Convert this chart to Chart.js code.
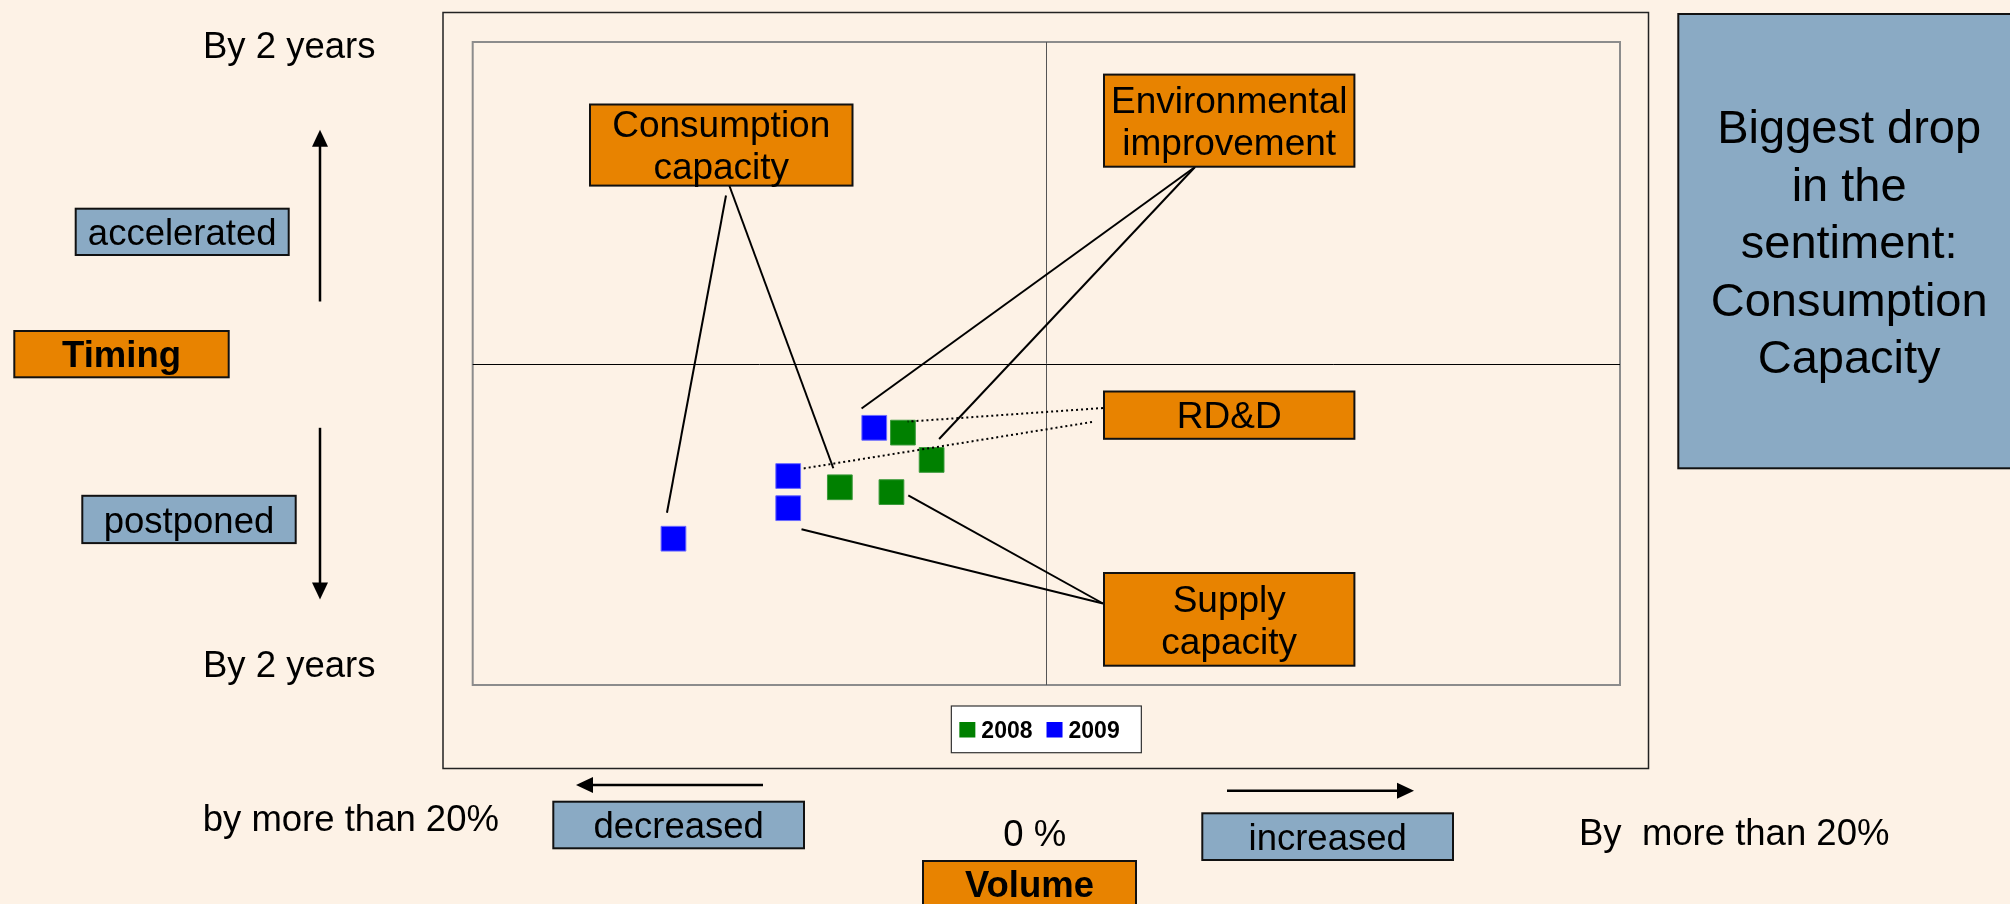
<!DOCTYPE html>
<html>
<head>
<meta charset="utf-8">
<title>Timing / Volume sentiment</title>
<script src="https://cdn.jsdelivr.net/npm/chart.js@4.4.1/dist/chart.umd.min.js"></script>
<style>
  html, body { margin: 0; padding: 0; background: #fdf2e6; }
  #wrap { width: 2010px; height: 904px; }
</style>
</head>
<body>
<div id="wrap"><canvas id="chartRef" width="2010" height="904"></canvas></div>
<script>
// ---- data ----
const categories = ["Consumption capacity", "Environmental improvement", "RD&D", "Supply capacity"];
const categoryLines = [["Consumption", "capacity"], ["Environmental", "improvement"], ["RD&D"], ["Supply", "capacity"]];
const seriesLabels = ["2008", "2009"];
const volume2008 = [-7.2, -4.0, -5.0, -5.4];
const timing2008 = [-0.77, -0.60, -0.43, -0.80];
const volume2009 = [-13.0, -6.0, -9.0, -9.0];
const timing2009 = [-1.09, -0.40, -0.70, -0.90];
const volumeTicks = ["by more than 20%", "0 %", "By  more than 20%"];
const volumeSides = ["decreased", "increased"];
const timingTicks = ["By 2 years", "By 2 years"];
const timingSides = ["accelerated", "postponed"];
const axisTitles = ["Timing", "Volume"];
const noteLines = ["Biggest drop", "in the", "sentiment:", "Consumption", "Capacity"];

// ---- styling ----
const BG = "#fdf2e6";
const ORANGE = "#e88300";
const STEEL = "#8aaac4";
const GREEN = "#008000";
const BLUE = "#0000ff";
const FONT = "'Liberation Sans', Arial, sans-serif";

// label boxes inside the plot: [left, top, right, bottom]
const catBoxes = [
    [590, 104.5, 852.5, 185.6],
    [1104, 74.6, 1354.4, 166.7],
    [1104, 391.5, 1354.4, 438.8],
    [1104, 573, 1354.4, 665.7],
];
// leader lines: box anchor -> offset from the point (series 0 = 2008, 1 = 2009)
const leaders = [
    { cat: 0, series: 0, from: [728, 182], off: [-6.5, -19], dash: false },
    { cat: 0, series: 1, from: [726, 195.5], off: [-6.5, -26], dash: false },
    { cat: 1, series: 1, from: [1195, 167], off: [-12.7, -19.3], dash: false },
    { cat: 1, series: 0, from: [1195, 167], off: [7.5, -21], dash: false },
    { cat: 2, series: 0, from: [1103, 408], off: [4.7, -11], dash: true },
    { cat: 2, series: 1, from: [1092, 422], off: [15.5, -7.6], dash: true },
    { cat: 3, series: 1, from: [1103, 603.5], off: [13.3, 21], dash: false },
    { cat: 3, series: 0, from: [1103, 603.5], off: [16.8, 3.2], dash: false },
];

function toPoints(xs, ys) {
    return xs.map((x, i) => ({ x: x, y: ys[i] }));
}

function box(ctx, l, t, r, b, fill) {
    ctx.save();
    ctx.fillStyle = fill;
    ctx.fillRect(l, t, r - l, b - t);
    ctx.lineWidth = 2;
    ctx.strokeStyle = "#111";
    ctx.strokeRect(l, t, r - l, b - t);
    ctx.restore();
}

function text(ctx, str, x, y, size, bold, align) {
    ctx.save();
    ctx.font = (bold ? "bold " : "") + size + "px " + FONT;
    ctx.fillStyle = "#000";
    ctx.textAlign = align || "left";
    ctx.textBaseline = "alphabetic";
    ctx.fillText(str, x, y);
    ctx.restore();
}

function labelBox(ctx, l, t, r, b, fill, lines, size, bold, lh) {
    box(ctx, l, t, r, b, fill);
    const cx = (l + r) / 2;
    const cy = (t + b) / 2;
    const n = lines.length;
    lines.forEach((s, i) => {
        const y = cy + (i - (n - 1) / 2) * lh + size * 0.36;
        text(ctx, s, cx, y, size, bold, "center");
    });
}

function arrow(ctx, x1, y1, x2, y2) {
    // line from (x1,y1) with a head at (x2,y2)
    const a = Math.atan2(y2 - y1, x2 - x1);
    const L = 17, W = 8;
    ctx.save();
    ctx.strokeStyle = "#000";
    ctx.fillStyle = "#000";
    ctx.lineWidth = 2.5;
    ctx.beginPath();
    ctx.moveTo(x1, y1);
    ctx.lineTo(x2 - Math.cos(a) * L * 0.6, y2 - Math.sin(a) * L * 0.6);
    ctx.stroke();
    ctx.beginPath();
    ctx.moveTo(x2, y2);
    ctx.lineTo(x2 - Math.cos(a) * L - Math.sin(a) * W, y2 - Math.sin(a) * L + Math.cos(a) * W);
    ctx.lineTo(x2 - Math.cos(a) * L + Math.sin(a) * W, y2 - Math.sin(a) * L - Math.cos(a) * W);
    ctx.closePath();
    ctx.fill();
    ctx.restore();
}

const quadrantPlugin = {
    id: "quadrant",
    beforeDraw(chart) {
        const ctx = chart.ctx;
        const area = chart.chartArea;
        const x0 = chart.scales.x.getPixelForValue(0);
        const y0 = chart.scales.y.getPixelForValue(0);
        ctx.save();
        ctx.fillStyle = BG;
        ctx.fillRect(0, 0, chart.width, chart.height);

        // outer frame
        ctx.strokeStyle = "#222";
        ctx.lineWidth = 1.5;
        ctx.strokeRect(443, 12.5, 1205.5, 756);

        // plot border
        ctx.strokeStyle = "#8c8c8c";
        ctx.lineWidth = 2;
        ctx.strokeRect(area.left, area.top, area.right - area.left, area.bottom - area.top);

        // quadrant lines
        ctx.lineWidth = 1;
        ctx.strokeStyle = "#555";
        ctx.beginPath();
        ctx.moveTo(Math.round(x0) + 0.5, area.top);
        ctx.lineTo(Math.round(x0) + 0.5, area.bottom);
        ctx.stroke();
        ctx.strokeStyle = "#000";
        ctx.beginPath();
        ctx.moveTo(area.left, Math.round(y0) + 0.5);
        ctx.lineTo(area.right, Math.round(y0) + 0.5);
        ctx.stroke();
        ctx.restore();
    },
    afterDatasetsDraw(chart) {
        const ctx = chart.ctx;
        const area = chart.chartArea;

        // leader lines from the label boxes to the points
        leaders.forEach(ld => {
            const el = chart.getDatasetMeta(ld.series).data[ld.cat];
            ctx.save();
            ctx.strokeStyle = "#000";
            ctx.lineWidth = ld.dash ? 2 : 2;
            if (ld.dash) ctx.setLineDash([2, 3]);
            ctx.beginPath();
            ctx.moveTo(ld.from[0], ld.from[1]);
            ctx.lineTo(el.x + ld.off[0], el.y + ld.off[1]);
            ctx.stroke();
            ctx.restore();
        });

        // category boxes
        catBoxes.forEach((b, i) => {
            labelBox(ctx, b[0], b[1], b[2], b[3], ORANGE, categoryLines[i], 37, false, 42);
        });

        // legend
        const lgW = 190, lgT = 706, lgH = 46.7;
        const lgL = (area.left + area.right) / 2 - lgW / 2;
        ctx.save();
        ctx.fillStyle = "#fff";
        ctx.fillRect(lgL, lgT, lgW, lgH);
        ctx.strokeStyle = "#333";
        ctx.lineWidth = 1.2;
        ctx.strokeRect(lgL, lgT, lgW, lgH);
        ctx.font = "bold 23px " + FONT;
        let lx = lgL + 8;
        chart.data.datasets.forEach(ds => {
            ctx.fillStyle = ds.backgroundColor;
            ctx.fillRect(lx, lgT + 16, 16, 15.5);
            ctx.fillStyle = "#000";
            ctx.textBaseline = "alphabetic";
            ctx.fillText(ds.label, lx + 22, lgT + 32);
            lx += 22 + ctx.measureText(ds.label).width + 14;
        });
        ctx.restore();

        // timing axis (left)
        text(ctx, timingTicks[0], 203, 57.5, 36.5);
        text(ctx, timingTicks[1], 203, 677, 36.5);
        labelBox(ctx, 75.7, 208.7, 288.7, 255, STEEL, [timingSides[0]], 36.5, false, 0);
        labelBox(ctx, 14.3, 331, 228.7, 377.3, ORANGE, [axisTitles[0]], 36.5, true, 0);
        labelBox(ctx, 82.3, 495.8, 295.7, 543.1, STEEL, [timingSides[1]], 36.5, false, 0);
        arrow(ctx, 320, 301.5, 320, 129.7);
        arrow(ctx, 320, 427.8, 320, 599.6);

        // volume axis (bottom)
        text(ctx, volumeTicks[0], 202.7, 830.7, 36.5);
        labelBox(ctx, 553.3, 801.7, 804, 848.3, STEEL, [volumeSides[0]], 36.5, false, 0);
        text(ctx, volumeTicks[1], 1003.3, 845.7, 36.5);
        labelBox(ctx, 923, 861, 1136, 906.5, ORANGE, [axisTitles[1]], 36.5, true, 0);
        labelBox(ctx, 1202.3, 813.3, 1453, 860, STEEL, [volumeSides[1]], 36.5, false, 0);
        text(ctx, volumeTicks[2], 1579, 845, 36.5);
        arrow(ctx, 763, 785, 576, 785);
        arrow(ctx, 1227, 790.7, 1414, 790.7);

        // note box (right)
        labelBox(ctx, 1678.3, 14, 2020, 468.3, STEEL, noteLines, 47, false, 57.5);
    }
};

const chart = new Chart(document.getElementById("chartRef"), {
    type: "scatter",
    data: {
        datasets: [
            {
                label: seriesLabels[0],
                data: toPoints(volume2008, timing2008),
                backgroundColor: GREEN,
                borderColor: "#3b9a3b",
                pointStyle: "rect",
                pointRadius: 17.5,
                pointBorderWidth: 1,
            },
            {
                label: seriesLabels[1],
                data: toPoints(volume2009, timing2009),
                backgroundColor: BLUE,
                borderColor: "#6b6bff",
                pointStyle: "rect",
                pointRadius: 17.5,
                pointBorderWidth: 1,
            },
        ],
    },
    options: {
        responsive: false,
        devicePixelRatio: 1,
        animation: false,
        events: [],
        layout: { padding: { left: 472.7, top: 42, right: 390, bottom: 219 } },
        scales: {
            x: { type: "linear", min: -20, max: 20, display: false },
            y: { type: "linear", min: -2, max: 2, display: false },
        },
        plugins: {
            legend: { display: false },
            tooltip: { enabled: false },
        },
    },
    plugins: [quadrantPlugin],
});
</script>
</body>
</html>
